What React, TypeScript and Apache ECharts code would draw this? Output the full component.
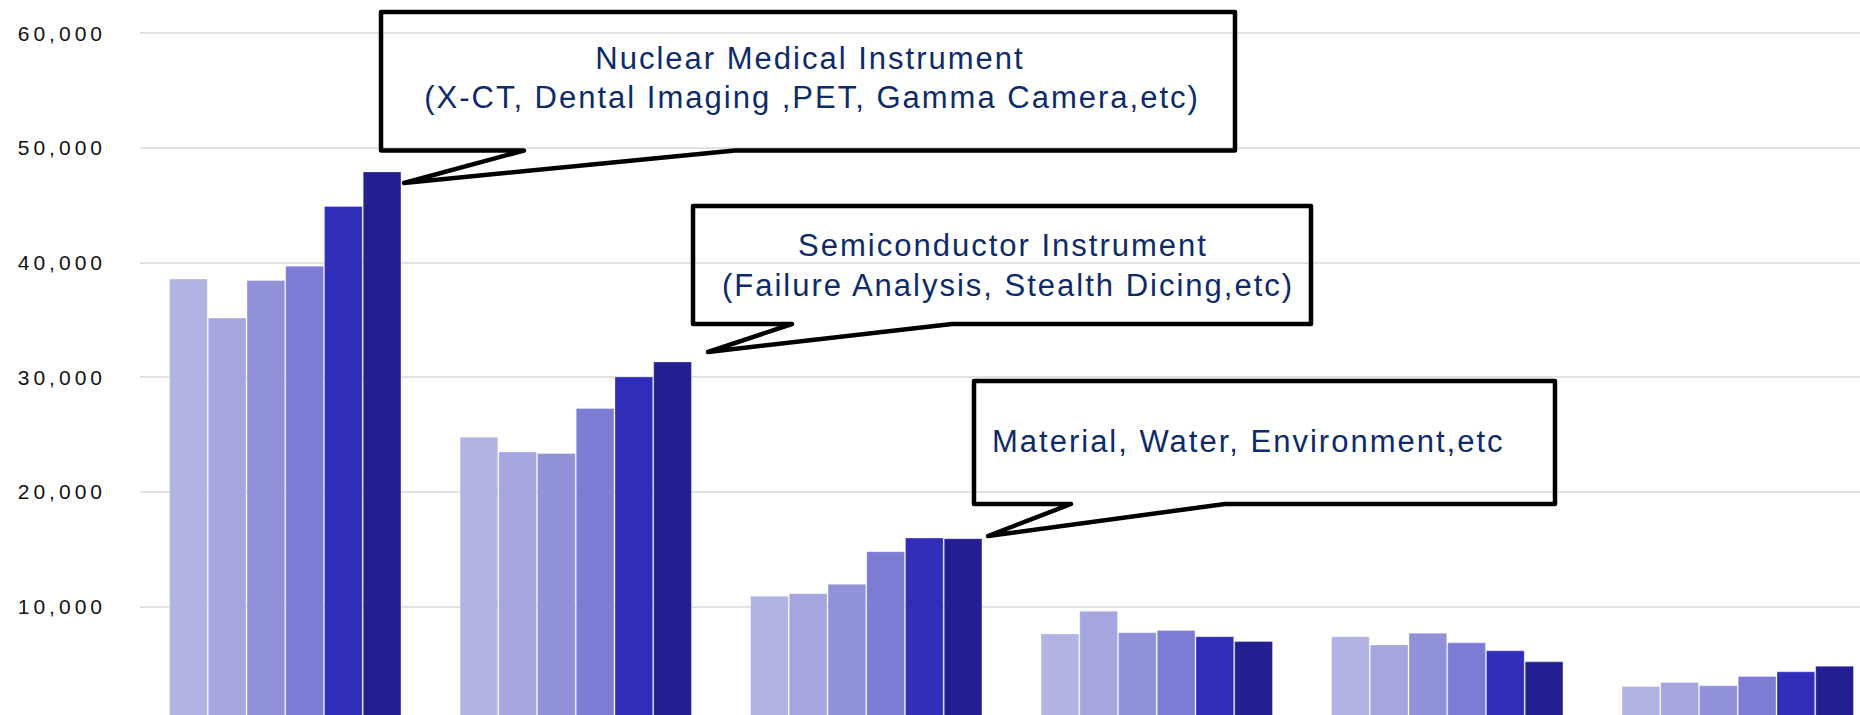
import React, { useEffect, useRef } from 'react';
import * as echarts from 'echarts';

// Product segments (x categories); the axis labels fall below the visible crop
const categories = [
  'Nuclear Medical Instrument',
  'Semiconductor Instrument',
  'Material, Water, Environment',
  'Segment 4',
  'Segment 5',
  'Segment 6',
];

// One series per fiscal year (lightest = oldest)
const seriesNames = ['Year 1', 'Year 2', 'Year 3', 'Year 4', 'Year 5', 'Year 6'];
const year1 = [38580, 24790, 10920, 7640, 7400, 3050];
const year2 = [35180, 23510, 11150, 9610, 6680, 3400];
const year3 = [38460, 23370, 11960, 7750, 7690, 3110];
const year4 = [39710, 27290, 14810, 7930, 6860, 3920];
const year5 = [44910, 30050, 16000, 7400, 6160, 4330];
const year6 = [47930, 31360, 15940, 6970, 5200, 4820];
const seriesValues = [year1, year2, year3, year4, year5, year6];

const seriesColors = ['#B3B3E3', '#A5A5E0', '#9191DA', '#7C7CD4', '#302DB9', '#222090'];

// Y axis ticks
const yMin = 0;
const yMax = 60000;
const yInterval = 10000;

// Callout texts
const calloutNuclear = ['Nuclear Medical Instrument', '(X-CT, Dental Imaging ,PET, Gamma Camera,etc)'];
const calloutSemi = ['Semiconductor Instrument', '(Failure Analysis, Stealth Dicing,etc)'];
const calloutMaterial = ['Material, Water, Environment,etc'];

const FONT = '"Liberation Sans", Arial, sans-serif';
const TEXT_COLOR = '#0D2A6A';

function callout(points: number[][]) {
  return {
    type: 'polygon',
    z: 100,
    shape: { points },
    style: { fill: 'transparent', stroke: '#000', lineWidth: 4.5, lineJoin: 'round' },
  };
}

function label(text: string, x: number, y: number, align: string) {
  return {
    type: 'text',
    z: 101,
    x,
    y,
    style: {
      text,
      fontSize: 31,
      fontFamily: FONT,
      fill: TEXT_COLOR,
      align,
      verticalAlign: 'middle',
    },
  };
}

export default function App() {
  const ref = useRef<HTMLDivElement>(null);

  useEffect(() => {
    const chart = echarts.init(ref.current!, null, { renderer: 'svg' });
    chart.setOption({
      animation: false,
      backgroundColor: '#ffffff',
      grid: {
        left: 140,
        top: 33,
        width: 1743,
        height: 688,
        containLabel: false,
        outerBoundsMode: 'none',
      },
      xAxis: {
        type: 'category',
        data: categories,
        axisLine: { show: false },
        axisTick: { show: false },
        axisLabel: { show: false },
        splitLine: { show: false },
      },
      yAxis: {
        type: 'value',
        min: yMin,
        max: yMax,
        interval: yInterval,
        axisLine: { show: false },
        axisTick: { show: false },
        axisLabel: {
          fontSize: 21,
          fontFamily: FONT,
          color: '#111111',
          margin: 34,
          formatter: (v: number) => v.toLocaleString('en-US'),
        },
        splitLine: { lineStyle: { color: '#D9D9D9', width: 1.5 } },
      },
      series: seriesValues.map((vals, i) => ({
        type: 'bar',
        name: seriesNames[i],
        data: vals,
        barGap: '0%',
        barCategoryGap: '20%',
        itemStyle: {
          color: seriesColors[i],
          borderColor: 'rgba(255,255,255,0.3)',
          borderWidth: 1,
        },
      })),
      graphic: [
        callout([[381, 12], [1235, 12], [1235, 150.5], [735, 150.5], [404, 183], [524, 150.5], [381, 150.5]]),
        label(calloutNuclear[0], 810, 58, 'center'),
        label(calloutNuclear[1], 812, 97, 'center'),
        callout([[693, 206], [1311, 206], [1311, 324], [952, 324], [708, 352], [792, 324], [693, 324]]),
        label(calloutSemi[0], 1003, 245, 'center'),
        label(calloutSemi[1], 1008, 285, 'center'),
        callout([[974, 381], [1555, 381], [1555, 504], [1225, 504], [988, 536], [1071, 504], [974, 504]]),
        label(calloutMaterial[0], 992, 441, 'left'),
      ],
    });
    return () => chart.dispose();
  }, []);

  return (
    <div
      style={{
        position: 'fixed',
        left: 0,
        top: 0,
        width: 1860,
        height: 715,
        overflow: 'hidden',
        background: '#fff',
      }}
    >
      <style>{`.chartbox text[style*="21px"]{letter-spacing:4px}.chartbox text[style*="31px"]{letter-spacing:2px}`}</style>
      <div className="chartbox" ref={ref} style={{ width: 1900, height: 760 }} />
    </div>
  );
}
